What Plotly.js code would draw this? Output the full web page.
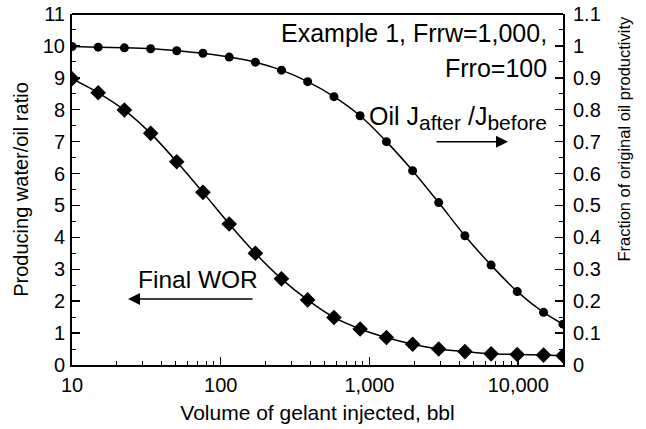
<!DOCTYPE html>
<html><head><meta charset="utf-8">
<script src="https://cdn.plot.ly/plotly-3.0.1.min.js"></script>
<style>html,body{margin:0;padding:0;background:#fff}#chart{width:646px;height:429px}</style>
</head><body><div id="chart"></div>
<script>
var volume = [10, 15, 22.5, 33.8, 50.6, 75.9, 114, 171, 256, 384, 577, 865, 1300, 1950, 2920, 4380, 6570, 9850, 14800, 20000];
var finalWOR = [8.97, 8.53, 7.99, 7.26, 6.37, 5.41, 4.42, 3.50, 2.70, 2.04, 1.49, 1.13, 0.86, 0.65, 0.50, 0.42, 0.35, 0.33, 0.31, 0.29];
var oilJratio = [0.998, 0.996, 0.994, 0.991, 0.985, 0.977, 0.965, 0.949, 0.924, 0.888, 0.841, 0.781, 0.700, 0.609, 0.509, 0.405, 0.313, 0.230, 0.165, 0.128];
var xTickVals = [10, 100, 1000, 10000];
var xTickText = ['10', '100', '1,000', '10,000'];
var xMinorVals = [20,30,40,50,60,70,80,90,200,300,400,500,600,700,800,900,2000,3000,4000,5000,6000,7000,8000,9000];
var yLeftTicks = [0,1,2,3,4,5,6,7,8,9,10,11];
var yRightTicks = [0,0.1,0.2,0.3,0.4,0.5,0.6,0.7,0.8,0.9,1,1.1];
var yRightText = ['0','0.1','0.2','0.3','0.4','0.5','0.6','0.7','0.8','0.9','1','1.1'];

var FONT = '"Liberation Sans", Arial, Helvetica, sans-serif';
var traces = [
  {x: volume, y: finalWOR, type: 'scatter', mode: 'lines+markers', name: 'Final WOR',
   line: {color: '#000', width: 1.5, shape: 'spline', smoothing: 0.8},
   marker: {symbol: 'diamond', size: 12, color: '#000'}},
  {x: volume, y: oilJratio, type: 'scatter', mode: 'lines+markers', name: 'Oil J', yaxis: 'y2',
   line: {color: '#000', width: 1.5, shape: 'spline', smoothing: 0.8},
   marker: {symbol: 'circle', size: 9, color: '#000'}}
];
var layout = {
  width: 646, height: 429,
  margin: {l: 72, r: 83, t: 14, b: 64},
  paper_bgcolor: '#fff', plot_bgcolor: '#fff',
  showlegend: false,
  font: {family: FONT, color: '#000', size: 20},
  xaxis: {type: 'log', range: [1, Math.log10(20000)], tickmode: 'array', tickvals: xTickVals, ticktext: xTickText,
    ticks: 'inside', ticklen: 8, tickwidth: 1.5, tickcolor: '#000', ticklabelstandoff: 1,
    minor: {tickmode: 'array', tickvals: xMinorVals, ticks: 'inside', ticklen: 4, tickwidth: 1, tickcolor: '#000', showgrid: false},
    showline: true, linecolor: '#000', linewidth: 2, showgrid: false, zeroline: false,
    tickfont: {size: 20, family: FONT},
    title: {text: 'Volume of gelant injected, bbl', font: {size: 21, family: FONT}, standoff: 10}},
  yaxis: {range: [0, 11], tickmode: 'array', tickvals: yLeftTicks, ticks: 'inside', ticklen: 8, tickwidth: 1.5, tickcolor: '#000',
    ticklabelstandoff: 1,
    minor: {dtick: 0.5, ticks: 'inside', ticklen: 4, tickwidth: 1, tickcolor: '#000', showgrid: false},
    showline: true, linecolor: '#000', linewidth: 2, showgrid: false, zeroline: false,
    tickfont: {size: 20, family: FONT},
    title: {text: 'Producing water/oil ratio', font: {size: 20, family: FONT}, standoff: 9}},
  yaxis2: {range: [0, 1.1], overlaying: 'y', side: 'right', tickmode: 'array', tickvals: yRightTicks, ticktext: yRightText,
    ticks: 'inside', ticklen: 8, tickwidth: 1.5, tickcolor: '#000', ticklabelstandoff: 4,
    minor: {dtick: 0.05, ticks: 'inside', ticklen: 4, tickwidth: 1, tickcolor: '#000', showgrid: false},
    showline: true, linecolor: '#000', linewidth: 2, showgrid: false, zeroline: false,
    tickfont: {size: 20, family: FONT}},
  shapes: [
    {type: 'line', xref: 'paper', yref: 'paper', x0: 0, x1: 1, y0: 1, y1: 1, line: {color: '#000', width: 2}}
  ],
  annotations: [
    {xref: 'paper', yref: 'paper', x: 1.0, xshift: 61, y: 0.645, textangle: -90, xanchor: 'center', yanchor: 'middle', showarrow: false,
     text: 'Fraction of original oil productivity', font: {size: 16.5, family: FONT}},
    {xref: 'paper', yref: 'paper', x: 0.972, y: 0.946, xanchor: 'right', yanchor: 'middle', showarrow: false,
     text: 'Example 1, Frrw=1,000,', font: {size: 25, family: FONT}},
    {xref: 'paper', yref: 'paper', x: 0.972, y: 0.846, xanchor: 'right', yanchor: 'middle', showarrow: false,
     text: 'Frro=100', font: {size: 25, family: FONT}},
    {xref: 'paper', yref: 'paper', x: 0.972, y: 0.705, xanchor: 'right', yanchor: 'middle', showarrow: false,
     text: 'Oil J<sub><span style="font-size:21px">after</span></sub> /J<sub><span style="font-size:21px">before</span></sub>', font: {size: 25, family: FONT}},
    {xref: 'paper', yref: 'paper', x: 0.888, y: 0.636, ax: -73, ay: 0, text: '', showarrow: true,
     arrowhead: 2, arrowsize: 1.6, arrowwidth: 1.5, arrowcolor: '#000'},
    {xref: 'paper', yref: 'paper', x: 0.256, y: 0.245, xanchor: 'center', yanchor: 'middle', showarrow: false,
     text: 'Final WOR', font: {size: 24.5, family: FONT}},
    {xref: 'paper', yref: 'paper', x: 0.114, y: 0.188, ax: 126, ay: 0, text: '', showarrow: true,
     arrowhead: 2, arrowsize: 1.6, arrowwidth: 1.5, arrowcolor: '#000'}
  ]
};
Plotly.newPlot('chart', traces, layout, {displayModeBar: false, staticPlot: true});
</script></body></html>
